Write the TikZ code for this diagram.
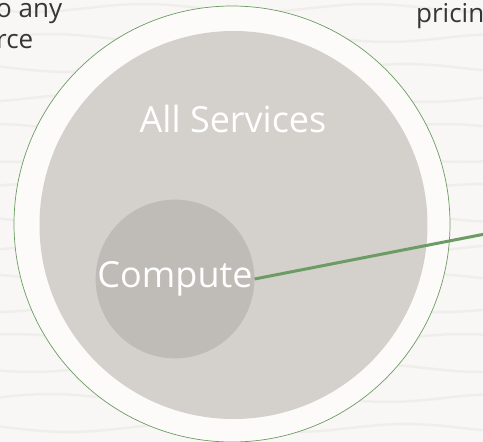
\documentclass[tikz,border=0pt]{standalone}
\usepackage{fontspec}
\setmainfont{Open Sans}
\definecolor{bgcol}{HTML}{F8F7F5}
\definecolor{wavecol}{HTML}{EFEEEB}
\definecolor{ringcol}{HTML}{FCFBFA}
\definecolor{allcol}{HTML}{D4D1CC}
\definecolor{compcol}{HTML}{BFBBB6}
\definecolor{greencol}{HTML}{6C9B63}
\definecolor{textcol}{HTML}{363636}
\begin{document}
\begin{tikzpicture}[x=1pt,y=-1pt,
    wave/.style={wavecol,line width=2.5pt,line cap=round},
    disc/.style={circle,inner sep=0pt,text=white,font=\fontsize{36}{40}\selectfont},
    side/.style={text=textcol,font=\fontsize{26}{31}\selectfont,inner sep=0pt}]
    \useasboundingbox (0,0) rectangle (483,442);
    \fill[bgcol] (0,0) rectangle (483,442);
    % background streaks
    \foreach \y in {8,38,68,98,128,158,188,218,248,278,308,338,368,398,428}
        \draw[wave] plot[domain=0:483,samples=50] (\x,{\y+4*sin(\x*1.6+\y*5)});
    \node[circle,draw=greencol,line width=0.7pt,fill=ringcol,minimum size=436pt,inner sep=0pt] (R) at (232,224) {};
    \node[disc,fill=allcol,minimum size=388pt] (A) at (233.5,225) {};
    \node[text=white,font=\fontsize{36}{40}\selectfont,inner sep=0pt] (AL) at (233,119) {All Services};
    \node[disc,fill=compcol,minimum size=158pt] (C) at (175,279) {Compute};
    \coordinate (E) at (485,234);
    \draw[greencol,line width=3pt] (C.east) -- (E);
    \node[side,align=left,anchor=north west] (T1) at (-4,3) {o any\\rce};
    \node[side,anchor=north west] (T2) at (416,3) {pricin};
\end{tikzpicture}
\end{document}
